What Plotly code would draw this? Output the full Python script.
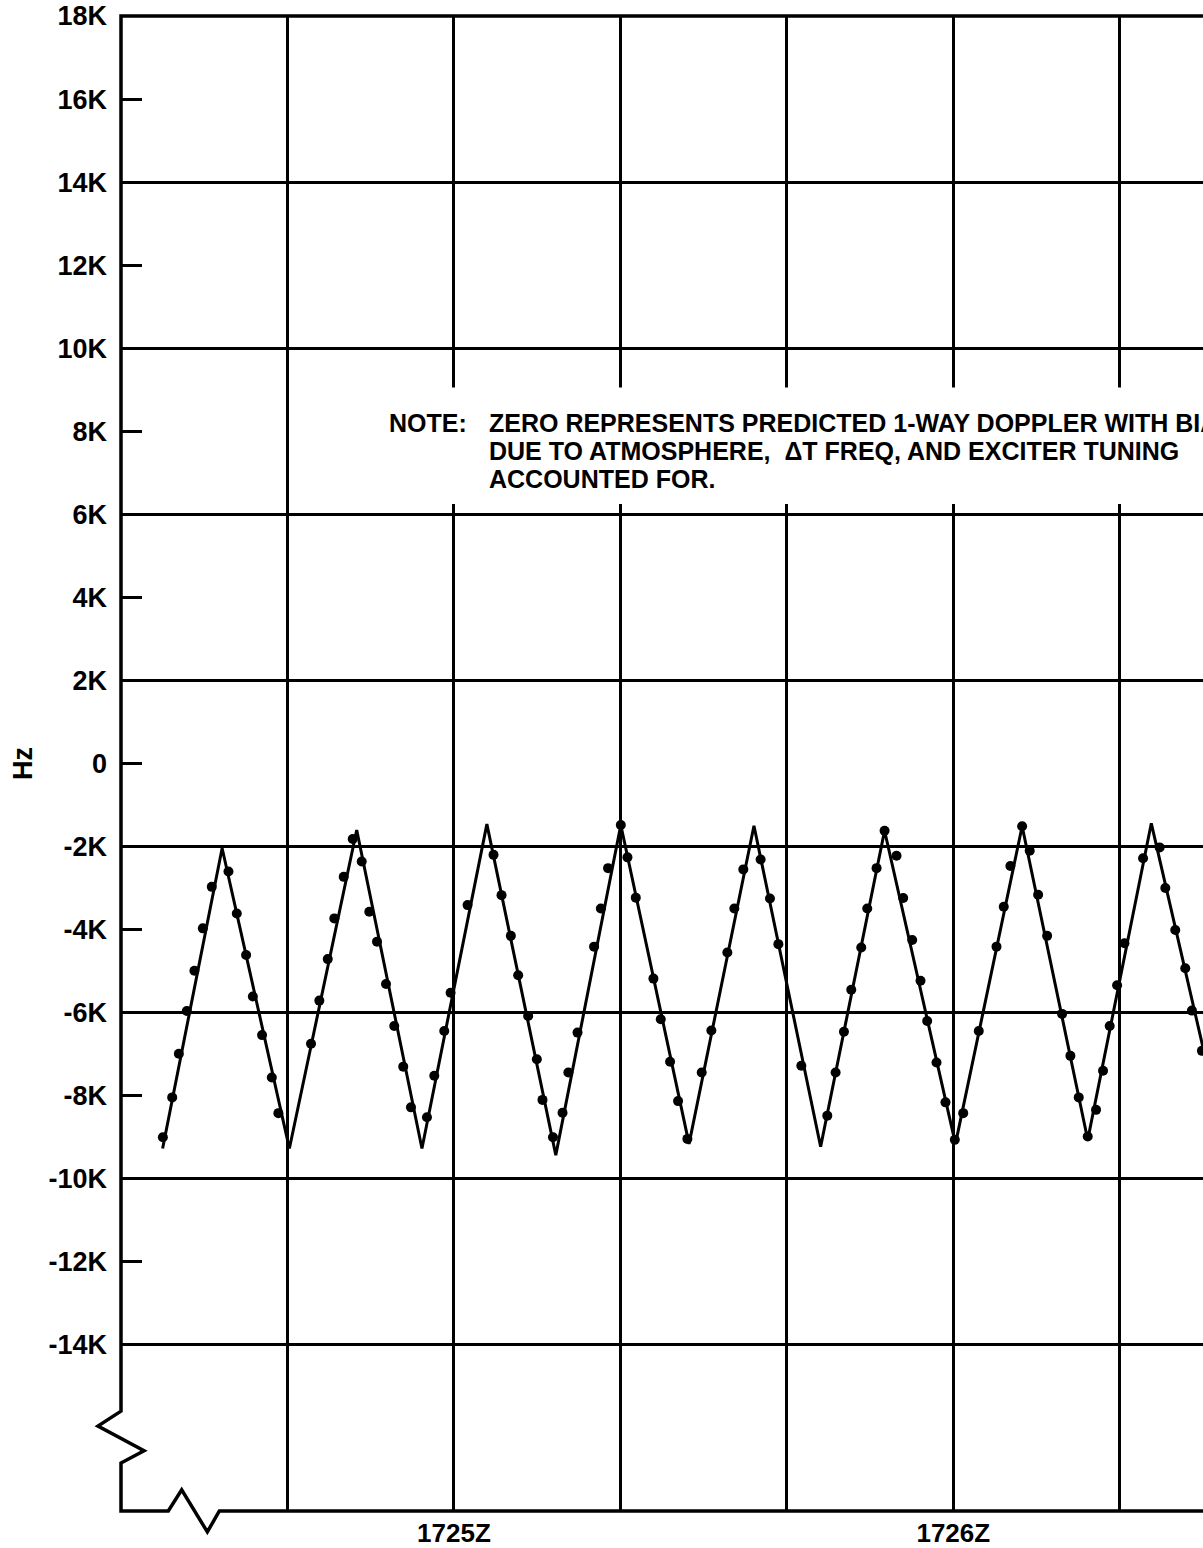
import plotly.graph_objects as go

# time axis = seconds after 17:24:00Z, values in Hz
line_t = [25.0, 32.15, 40.23, 48.32, 56.16, 63.96, 72.24, 80.05, 88.25, 96.05,
          104.06, 111.74, 120.26, 128.27, 136.15, 143.79, 150.3]
line_hz = [-9270, -2040, -9270, -1600, -9270, -1460, -9430, -1480, -9160, -1500,
           -9230, -1620, -9160, -1510, -9060, -1440, -7100]

dot_t = [25.03, 26.15, 26.95, 27.91, 28.82, 29.83, 30.91, 32.91, 33.91, 35.03,
         35.84, 36.95, 38.12, 38.91, 42.83, 43.83, 44.84, 45.63, 46.76, 47.84,
         48.92, 49.83, 50.76, 51.84, 52.83, 53.91, 54.84, 56.76, 57.64, 58.84,
         59.6, 61.64, 64.76, 65.72, 66.84, 67.72, 68.92, 69.96, 70.64, 71.9,
         73.05, 73.75, 74.85, 76.84, 77.65, 78.52, 80.05, 80.85, 81.85, 83.97,
         84.85, 85.97, 86.93, 88.05, 89.77, 90.93, 92.85, 93.69, 94.77, 96.85,
         97.97, 98.98, 101.74, 104.86, 105.86, 106.86, 107.74, 108.94, 109.66, 110.78,
         111.74, 113.18, 113.98, 115.06, 116.06, 116.86, 117.98, 119.06, 120.18, 121.19,
         123.06, 125.19, 126.06, 126.86, 128.27, 129.18, 130.19, 131.27, 133.07, 134.07,
         135.07, 136.15, 137.15, 137.99, 138.79, 139.68, 140.56, 142.8, 144.79, 145.47,
         146.67, 147.87, 148.67, 149.87]
dot_hz = [-9000, -8040, -6990, -5960, -4990, -3970, -2970, -2600, -3610, -4610,
          -5610, -6540, -7560, -8420, -6750, -5710, -4710, -3730, -2730, -1820,
          -2360, -3570, -4290, -5310, -6320, -7300, -8280, -8520, -7520, -6440,
          -5520, -3410, -2200, -3170, -4150, -5100, -6080, -7120, -8100, -9000,
          -8410, -7440, -6480, -4410, -3490, -2520, -1480, -2260, -3230, -5180,
          -6160, -7180, -8130, -9040, -7440, -6430, -4550, -3490, -2550, -2310,
          -3250, -4350, -7280, -8480, -7440, -6460, -5450, -4430, -3490, -2520,
          -1620, -2220, -3240, -4250, -5230, -6200, -7200, -8160, -9060, -8420,
          -6440, -4410, -3450, -2470, -1510, -2100, -3160, -4150, -6030, -7040,
          -8040, -8980, -8340, -7400, -6320, -5340, -4330, -2280, -2020, -3000,
          -4010, -4930, -5950, -6920]

y_ticks = list(range(-14000, 18001, 2000))
y_labels = ["0" if v == 0 else "%dK" % (v // 1000) for v in y_ticks]
y_grid = list(range(-14000, 18001, 4000))
x_grid = [40, 60, 80, 100, 120, 140]
x_ticks = [60, 120]
x_labels = ["1725Z", "1726Z"]

note_lines = ["ZERO REPRESENTS PREDICTED 1-WAY DOPPLER WITH BIAS",
              "DUE TO ATMOSPHERE,  \u0394T FREQ, AND EXCITER TUNING",
              "ACCOUNTED FOR."]

FONT = "Liberation Sans"

fig = go.Figure()
fig.add_trace(go.Scatter(x=line_t, y=line_hz, mode="lines",
                         line=dict(color="black", width=3), showlegend=False))
fig.add_trace(go.Scatter(x=dot_t, y=dot_hz, mode="markers",
                         marker=dict(color="black", size=10), showlegend=False))

fig.update_xaxes(range=[20, 150], tickvals=x_ticks, ticktext=x_labels,
                 showgrid=False, zeroline=False, showline=False, ticks="",
                 tickfont=dict(family=FONT, size=26, color="black", weight="bold"),
                 ticklabelstandoff=4,
                 minor=dict(tickvals=x_grid, showgrid=True, gridcolor="black",
                            gridwidth=2.5, ticks=""))
fig.update_yaxes(range=[-18000, 18000], tickvals=y_ticks, ticktext=y_labels,
                 showgrid=False, zeroline=False, showline=False,
                 ticks="inside", ticklen=21, tickwidth=2.5, tickcolor="black",
                 tickfont=dict(family=FONT, size=27, color="black", weight="bold"),
                 ticklabelstandoff=13,
                 minor=dict(tickvals=y_grid, showgrid=True, gridcolor="black",
                            gridwidth=2.5, ticks=""))

# frame with axis breaks (paper coords)
frame = ("M 1,1 L 0,1 L 0,0.0668 L -0.0213,0.0568 L 0.0213,0.0403 L 0,0.0321 "
         "L 0,0 L 0.0437,0 L 0.0561,0.0142 L 0.0798,-0.0140 L 0.0909,0 L 1,0")
fig.add_shape(type="path", path=frame, xref="paper", yref="paper",
              line=dict(color="black", width=3.5), layer="above")
# blank area behind the note
fig.add_shape(type="rect", xref="paper", yref="paper", x0=0.235, x1=1.01,
              y0=0.6735, y1=0.7515, fillcolor="white", line=dict(width=0),
              layer="above")

note_font = dict(family=FONT, size=25, color="black", weight="bold")
fig.add_annotation(text="NOTE:", xref="paper", yref="paper", x=0.2458, y=0.728,
                   xanchor="left", yanchor="middle", showarrow=False, font=note_font)
for i, txt in enumerate(note_lines):
    fig.add_annotation(text=txt, xref="paper", yref="paper", x=0.3383,
                       y=0.728 - i * 0.019, xanchor="left", yanchor="middle",
                       showarrow=False, font=note_font)

fig.add_annotation(text="Hz", xref="paper", yref="paper", x=-0.091, y=0.5,
                   textangle=-90, showarrow=False, xanchor="center", yanchor="middle",
                   font=dict(family=FONT, size=27, color="black", weight="bold"))

fig.update_layout(width=1203, height=1548, margin=dict(l=121, r=0, t=16, b=35),
                  plot_bgcolor="white", paper_bgcolor="white", showlegend=False)

fig.write_html("out.html", config={"displayModeBar": False},
               post_script="document.body.style.margin='0';")
